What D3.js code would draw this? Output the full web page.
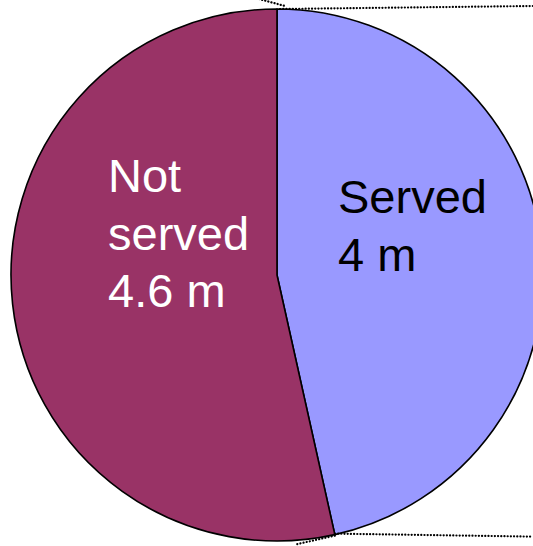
<!DOCTYPE html>
<html>
<head>
<meta charset="utf-8">
<script src="https://cdn.jsdelivr.net/npm/d3@7"></script>
<style>
html,body{margin:0;padding:0;background:#fff;}
svg{display:block;}
</style>
</head>
<body>
<svg id="chart" width="533" height="546"></svg>
<script>
const categories = ["Served", "Not served"];
const values = [4, 4.6];
const valueLabels = ["4 m", "4.6 m"];
const colors = ["#9999FF", "#993366"];
const textColors = ["#000000", "#FFFFFF"];

const svg = d3.select("#chart");
const cx = 277, cy = 275, r = 266;

const pie = d3.pie().sort(null).value(d => d.v);
const arcs = pie(categories.map((c, i) => ({c, v: values[i], i})));
const arc = d3.arc().innerRadius(0).outerRadius(r);

const g = svg.append("g").attr("transform", `translate(${cx},${cy})`);
g.selectAll("path").data(arcs).enter().append("path")
  .attr("d", arc)
  .attr("fill", d => colors[d.data.i])
  .attr("stroke", "#000")
  .attr("stroke-width", 1.6)
  .attr("stroke-linejoin", "round");

// connector dotted lines (bar-of-pie style)
const boundaryAngle = arcs[0].endAngle;
const bx = cx + r * Math.sin(boundaryAngle), by = cy - r * Math.cos(boundaryAngle);
const tx = cx, ty = cy - r;
const dotted = [
  [[tx + 3, ty], [533, ty - 3]],
  [[tx - 18, ty - 10], [tx + 8, ty - 3]],
  [[bx, by - 1], [533, by + 2]],
  [[bx, by + 1], [bx - 40, by + 10]]
];
svg.selectAll("line.dot").data(dotted).enter().append("line")
  .attr("class", "dot")
  .attr("x1", d => d[0][0]).attr("y1", d => d[0][1])
  .attr("x2", d => d[1][0]).attr("y2", d => d[1][1])
  .attr("stroke", "#000").attr("stroke-width", 2.2)
  .attr("stroke-linecap", "round")
  .attr("stroke-dasharray", "0.1 3.1");

// labels
const labelPos = [
  {x: 338, y: 213, lines: ["Served", valueLabels[0]]},
  {x: 108, y: 192, lines: ["Not", "served", valueLabels[1]]}
];
labelPos.forEach((lp, i) => {
  const t = svg.append("text")
    .attr("x", lp.x).attr("y", lp.y)
    .attr("fill", textColors[i])
    .style("font-family", "'Liberation Sans', Arial, sans-serif")
    .style("font-size", "47px");
  lp.lines.forEach((s, j) => {
    t.append("tspan").attr("x", lp.x).attr("dy", j === 0 ? 0 : 57.5).text(s);
  });
});
</script>
</body>
</html>
